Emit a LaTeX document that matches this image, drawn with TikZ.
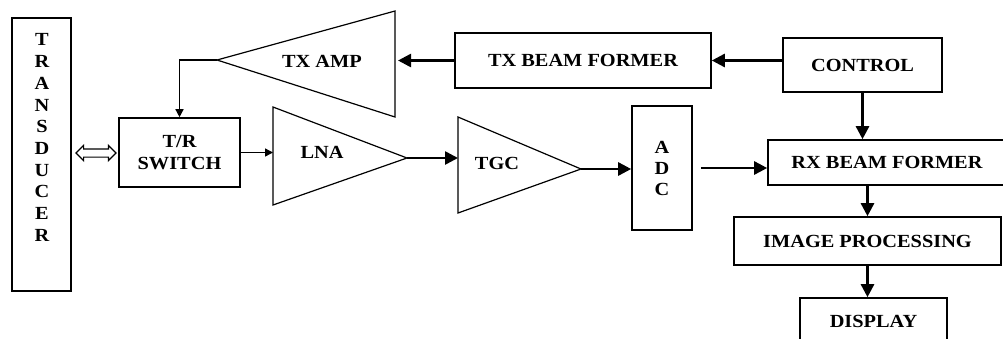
\documentclass[tikz,border=0pt]{standalone}
\usepackage{fontspec}
\setmainfont[FakeStretch=1.1]{Liberation Serif}
\usetikzlibrary{shapes.arrows,arrows.meta,positioning}
\tikzstyle{block} = [rectangle, draw=black, line width=1.6pt, align=center, inner sep=0pt]
\tikzstyle{label} = [align=center, inner sep=0pt]
\tikzstyle{amp} = [draw=black, line width=1.2pt, line join=miter]
\tikzstyle{arrow} = [line width=2.6pt, -{Triangle[length=13pt,width=13pt]}]
\tikzstyle{thin arrow} = [line width=1.4pt, -{Triangle[length=8pt,width=8pt]}]

\begin{document}
\begin{tikzpicture}[x=1pt, y=-1pt, font=\bfseries\fontsize{18.5}{22}\selectfont]
  \clip (0,0) rectangle (1003,338);

  % Blocks
  \node (transducer) [block, minimum width=59, minimum height=273] at (41.5,154.5) {};
  \node (letters) [label, font=\bfseries\fontsize{18.5}{21.7}\selectfont] at (42,137.5)
    {T\\R\\A\\N\\S\\D\\U\\C\\E\\R};
  \node (trsw) [block, minimum width=121, minimum height=69] at (179.5,152.5) {T/R\\SWITCH};
  \node (txbf) [block, minimum width=256, minimum height=55] at (583,60.5) {TX BEAM FORMER};
  \node (control) [block, minimum width=159, minimum height=54] at (862.5,65) {CONTROL};
  \node (adc) [block, minimum width=60, minimum height=124, font=\bfseries\fontsize{18.5}{21}\selectfont]
    at (662,168) {A\\D\\C};
  \node (rx) [block, minimum width=238, minimum height=45] at (887,162.5) {RX BEAM FORMER};
  \node (image) [block, minimum width=267, minimum height=48] at (867.5,241) {IMAGE PROCESSING};
  \node (display) [block, minimum width=147, minimum height=46] at (873.5,321) {DISPLAY};

  % Amplifiers
  \draw[amp] (395,11) -- (395,117) -- (217,60) -- cycle;
  \draw[amp] (273,107) -- (273,205) -- (407,158) -- cycle;
  \draw[amp] (458,117) -- (458,213) -- (581,169) -- cycle;
  \coordinate (txamp-in) at (398,60.5);
  \coordinate (txamp-out) at (217,60);
  \coordinate (lna-in) at (273,152.5);
  \coordinate (lna-out) at (407,158);
  \coordinate (tgc-in) at (458,158);
  \coordinate (tgc-out) at (581,169);
  \node (txamp) [label] at (322,61) {TX AMP};
  \node (lna) [label] at (322,152) {LNA};
  \node (tgc) [label] at (497,163) {TGC};

  % Link
  \node (link) [double arrow, draw, line width=1.2pt, minimum height=40, inner xsep=0pt,
    inner ysep=3.5pt, double arrow head extend=3.5pt] at (96,153) {};

  % Connectors
  \draw[arrow] (control.west |- txbf.east) -- (txbf.east);
  \draw[arrow] (txbf.west) -- (txamp-in);
  \draw[thin arrow] (txamp-out) -| (trsw.north);
  \draw[thin arrow] (trsw.east) -- (lna-in);
  \draw[arrow] (lna-out) -- (tgc-in);
  \draw[arrow] (tgc-out) -- (tgc-out -| adc.west);
  \draw[arrow, shorten <=8pt] (adc.east) -- (adc.east -| rx.west);
  \draw[arrow] (control.south) -- (control.south |- rx.north);
  \draw[arrow] (image.north |- rx.south) -- (image.north);
  \draw[arrow] (image.south) -- (image.south |- display.north);
\end{tikzpicture}
\end{document}
